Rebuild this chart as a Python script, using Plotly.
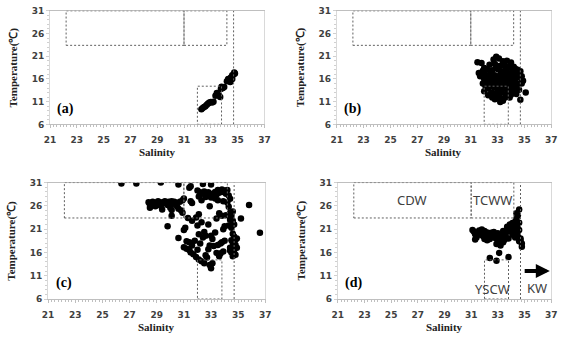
import plotly.graph_objects as go

# ---------------- data ----------------
a_sal = [32.3, 32.4, 32.5, 32.6, 32.7, 32.8, 32.9, 33.0, 33.1, 33.2, 33.35, 33.45, 33.6, 33.7,
         33.75, 33.8, 33.9, 34.0, 34.2, 34.3, 34.45, 34.5, 34.6, 34.7, 34.75, 34.8, 34.6, 34.3]
a_tmp = [9.3, 9.6, 9.8, 10.0, 10.3, 10.6, 10.8, 10.9, 10.8, 11.0, 12.3, 12.9, 12.4, 12.0,
         13.8, 14.3, 14.0, 14.2, 15.5, 16.0, 15.3, 16.3, 16.8, 17.0, 17.4, 17.2, 16.0, 15.8]

b_pts = [(31.5,19.7),(31.8,19.5),(31.6,17.3),(31.7,16.6),(31.9,17.8),(32.0,18.4),(31.9,15.0),(32.1,14.4),
         (32.0,13.3),(32.3,12.4),(32.6,11.9),(32.9,20.9),(32.7,20.3),(33.1,20.5),(33.4,19.9),(33.7,20.0),
         (34.0,19.6),(34.2,18.7),(34.5,18.0),(34.7,17.7),(34.8,16.6),(34.9,15.6),(35.1,13.0),(34.7,11.4),
         (33.9,11.9),(33.4,11.2),(33.2,10.9),(32.8,11.5),(33.0,11.9),(34.4,12.7),(34.6,13.6),(34.1,13.1),
         (32.4,19.1),(32.8,19.3),(33.2,18.9),(33.5,19.2),(33.9,18.8),
         (32.2,18.1),(32.6,17.9),(33.0,18.2),(33.3,17.7),(33.7,18.1),(34.1,17.8),(34.4,17.2),
         (32.1,16.9),(32.5,17.2),(32.8,16.8),(33.2,17.0),(33.5,16.6),(33.9,17.1),(34.2,16.7),(34.6,16.9),
         (32.0,16.0),(32.3,15.8),(32.7,16.2),(33.0,15.7),(33.4,16.1),(33.7,15.6),(34.0,16.0),(34.3,15.8),(34.7,16.2),
         (32.2,15.1),(32.5,14.8),(32.9,15.2),(33.2,14.7),(33.6,15.0),(33.9,14.6),(34.2,15.1),(34.5,14.9),(34.8,15.0),
         (32.3,13.9),(32.7,14.2),(33.0,13.8),(33.4,14.0),(33.7,13.6),(34.0,14.2),(34.3,13.9),
         (32.6,13.0),(32.9,12.7),(33.3,13.1),(33.6,12.6),(33.8,13.2),(34.0,12.5),
         (33.1,12.2),(33.5,11.8),(32.5,12.8),
         (32.4,16.5),(33.1,16.4),(33.8,16.5),(32.6,15.5),(33.3,15.4),(34.1,15.4),(33.5,17.5),(32.9,18.6),
         (33.6,18.5),(32.4,14.4),(33.1,14.3),(33.8,14.2),(34.4,16.4),(34.6,17.4),(34.3,18.3),(32.0,17.3)]
b_sal = [p[0] for p in b_pts]
b_tmp = [p[1] for p in b_pts]

c_pts = [(26.4,30.8),(27.5,30.8),(29.3,31.0),(30.6,30.6),(31.5,30.2),(32.4,30.7),(33.0,30.6),(35.8,26.2),
         (36.6,20.2),(35.2,23.3),(29.8,21.6),(30.1,23.9),
         (28.4,26.8),(28.5,26.2),(28.5,25.6),(28.6,26.5),(28.7,26.9),(28.8,26.3),(28.9,25.9),(29.0,26.7),
         (29.1,27.0),(29.2,26.4),(29.3,26.0),(29.4,26.8),(29.4,25.2),(29.5,26.5),(29.6,27.0),(29.7,26.6),
         (29.8,26.2),(29.9,26.9),(30.0,26.7),(30.1,27.0),(30.2,26.5),(30.0,25.6),(30.1,25.1),(30.3,26.9),
         (30.4,26.3),(30.5,25.9),(30.6,25.4),(30.7,26.9),(30.8,25.0),(30.9,27.2),(31.0,27.6),(30.9,24.5),
         (31.3,23.4),
         (32.0,29.3),(32.2,28.9),(32.4,28.6),(32.5,29.1),(32.7,28.4),(32.8,28.9),(32.9,28.2),(33.0,27.8),
         (33.1,28.6),(33.2,28.0),(33.3,29.0),(33.4,28.4),(33.5,29.4),(33.6,28.8),(33.7,29.2),(33.8,29.5),
         (33.9,29.0),(34.0,29.3),(34.1,28.6),(34.2,29.4),(34.3,28.2),(33.5,27.2),(33.9,27.0),(34.2,26.7),
         (34.3,25.8),(32.9,25.9),(32.3,27.2),(31.5,27.0),(31.6,26.6),(31.4,29.9),(32.1,28.0),(32.6,27.9),
         (33.3,27.6),(34.4,27.5),
         (34.4,24.5),(34.5,23.9),(34.6,24.8),(34.4,23.0),(34.7,22.0),(34.5,21.3),(34.6,20.0),(34.7,19.4),
         (34.8,18.8),(34.5,18.6),(34.6,18.0),(34.8,17.6),(34.4,17.0),(34.7,16.5),(34.5,16.0),(34.8,15.5),
         (34.6,15.2),(34.9,19.0),(34.7,18.2),(34.4,16.4),(34.6,22.8),(34.3,21.8),(34.9,17.0),
         (31.0,20.8),(31.1,21.3),(30.6,19.1),(31.2,18.4),(31.4,18.2),(31.0,17.1),(31.2,16.8),(31.4,16.5),
         (31.5,16.0),(31.7,15.6),(31.6,17.5),(31.9,15.0),(32.1,14.5),(32.3,14.1),(32.5,13.7),(32.7,14.9),
         (32.6,15.4),(32.9,13.3),(33.0,12.6),(33.1,13.7),(33.6,15.2),(33.7,15.8),(32.0,16.6),(32.2,17.9),
         (32.4,19.2),(32.1,19.9),(32.0,21.8),(32.3,22.5),(31.9,23.5),(32.1,24.2),(32.8,22.0),(32.6,19.6),
         (33.0,19.6),(33.1,18.9),(33.2,17.4),(33.5,17.6),(33.7,17.9),(33.8,18.2),(33.9,21.0),(34.0,21.6),
         (33.4,23.3),(33.8,23.9),(34.1,24.0),(33.6,24.4),(32.9,17.5),(33.3,20.3),(32.5,20.4),(31.8,18.5),
         (33.4,15.9),(32.8,16.7),(31.6,22.8),(34.0,18.5),(33.9,16.2)]
c_sal = [p[0] for p in c_pts]
c_tmp = [p[1] for p in c_pts]

d_pts = [(31.2,20.5),(31.3,19.9),(31.4,19.2),(31.3,18.8),(31.6,20.7),(31.8,20.9),(32.0,20.6),(31.7,19.8),
         (31.9,19.5),(32.2,20.3),(32.3,19.7),(32.5,20.2),(32.6,19.6),(32.7,20.4),(32.8,19.1),(32.9,19.9),
         (32.4,18.9),(32.2,18.6),(32.0,18.9),(33.0,20.1),(33.1,19.3),(33.2,18.6),(32.9,17.8),(33.0,18.3),
         (33.3,19.8),(33.4,20.6),(33.5,20.0),(33.6,19.3),(33.5,18.7),(33.7,20.4),(33.8,21.0),(33.9,20.7),
         (33.7,21.5),(33.9,22.0),(34.0,21.7),(34.1,22.3),(34.2,21.2),(34.0,20.5),(34.1,19.8),(34.2,20.8),
         (34.3,22.6),(34.4,23.3),(34.5,24.0),(34.6,25.2),(34.4,24.4),(34.3,21.5),(34.5,21.9),(34.6,22.4),
         (34.4,20.4),(34.5,19.6),(34.6,20.8),(34.7,19.0),(34.6,18.4),(34.8,17.9),(34.8,17.2),(34.7,18.6),
         (34.3,19.2),(33.8,19.0),(33.4,18.2),(33.2,17.5),(31.1,20.8),
         (32.4,14.8),(32.9,14.2),(33.1,15.9),(33.8,15.0)]
d_sal = [p[0] for p in d_pts]
d_tmp = [p[1] for p in d_pts]

x_ticks = [21, 23, 25, 27, 29, 31, 33, 35, 37]
y_ticks = [6, 11, 16, 21, 26, 31]
panel_labels = ["(a)", "(b)", "(c)", "(d)"]

# water-mass boundaries (salinity, temperature)
cdw_box = (22.2, 31.0, 23.4, 31.0)
tcww_box = (31.0, 34.2, 23.4, 31.0)
kw_line = 34.7
yscw_box = (32.0, 33.8, 6.0, 14.4)

W, H = 565, 337
# panel pixel boxes: (left, right, top, bottom)
panels_px = [(45, 264, 6, 123), (338, 557, 6, 123), (43, 265, 183, 303), (339, 557, 183, 303)]

fig = go.Figure()
datasets = [(a_sal, a_tmp), (b_sal, b_tmp), (c_sal, c_tmp), (d_sal, d_tmp)]

tickfont = dict(family="DejaVu Sans", size=9, color="#404040", weight="bold")
for i, ((xs, ys), (l, r, t, b)) in enumerate(zip(datasets, panels_px)):
    n = "" if i == 0 else str(i + 1)
    fig.add_trace(go.Scatter(x=xs, y=ys, mode="markers", xaxis="x" + n, yaxis="y" + n,
                             marker=dict(color="black", size=6.5, line=dict(width=0)),
                             showlegend=False))
    fig.layout["xaxis" + n] = dict(domain=[l / W, r / W], range=[21, 37], anchor="y" + n,
                                   tickvals=x_ticks, ticks="outside", ticklen=3, tickcolor="#bfbfbf",
                                   showline=True, linecolor="#bfbfbf", mirror=True, showgrid=False,
                                   zeroline=False, tickfont=tickfont, ticklabelstandoff=4,
                                   minor=dict(dtick=0.25, ticks="outside", ticklen=2, tickcolor="#bfbfbf"))
    fig.layout["yaxis" + n] = dict(domain=[1 - b / H, 1 - t / H], range=[6, 31], anchor="x" + n,
                                   tickvals=y_ticks, ticks="outside", ticklen=3, tickcolor="#d0d0d0",
                                   showline=True, linecolor="#d9d9d9", mirror=True, showgrid=False,
                                   zeroline=False, tickfont=tickfont,
                                   minor=dict(dtick=1, ticks="outside", ticklen=2, tickcolor="#d0d0d0"))
    xr, yr = "x" + n, "y" + n
    dash = dict(color="#606060", width=1, dash="2px,2px")
    for (x0, x1, y0, y1) in [cdw_box, tcww_box, yscw_box]:
        fig.add_shape(type="rect", xref=xr, yref=yr, x0=x0, x1=x1, y0=y0, y1=y1, line=dash)
    fig.add_shape(type="line", xref=xr, yref=yr, x0=kw_line, x1=kw_line, y0=6, y1=31, line=dash)
    # panel label
    fig.add_annotation(x=21.4, y=9.4, xref=xr, yref=yr, text=panel_labels[i], showarrow=False,
                       xanchor="left", yanchor="middle",
                       font=dict(family="Liberation Serif", size=14, color="black", weight="bold"))
    # axis titles
    cx = (l + r) / 2 / W
    fig.add_annotation(x=cx, y=1 - (b + 29) / H, xref="paper", yref="paper", text="Salinity",
                       xanchor="center", yanchor="middle", showarrow=False,
                       font=dict(family="Liberation Serif", size=11, color="#222", weight="bold"))
    fig.add_annotation(x=(l - 37) / W, y=1 - (t + b) / 2 / H, xref="paper", yref="paper",
                       text="Temperature(℃)", textangle=-90, showarrow=False,
                       xanchor="center", yanchor="middle",
                       font=dict(family="Liberation Serif", size=11, color="#222", weight="bold"))

# water-mass names (panel d)
lab_font = dict(family="Noto Sans", size=13, color="#404040")
for txt, sx, ty in [("CDW", 26.6, 27.2), ("TCWW", 32.6, 27.2), ("YSCW", 32.6, 8.2), ("KW", 35.9, 8.4)]:
    fig.add_annotation(x=sx, y=ty, xref="x4", yref="y4", text=txt, showarrow=False, font=lab_font)
fig.add_annotation(x=36.9, y=12.0, ax=34.9, ay=12.0, xref="x4", yref="y4", axref="x4", ayref="y4",
                   text="", showarrow=True, arrowhead=2, arrowsize=0.7, arrowwidth=4, arrowcolor="black")

fig.update_layout(width=W, height=H, margin=dict(l=0, r=0, t=0, b=0),
                  paper_bgcolor="white", plot_bgcolor="white")
fig.write_html("out.html")
